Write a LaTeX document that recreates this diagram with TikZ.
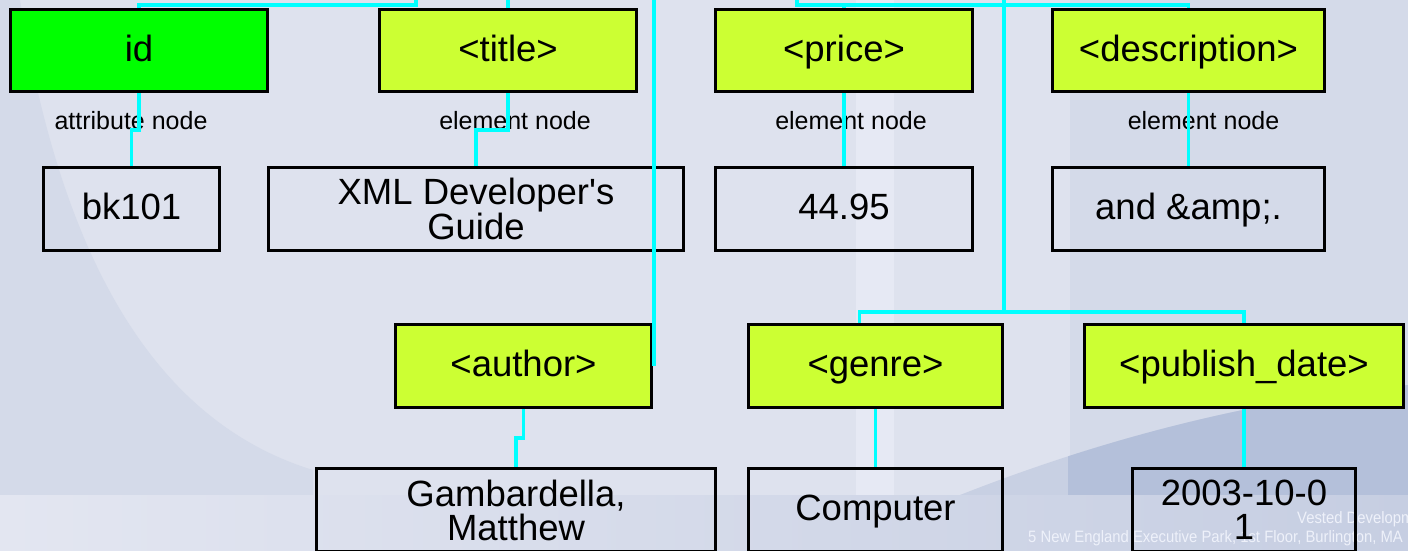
\documentclass[tikz,border=0pt]{standalone}
\usepackage{fontspec}
\usepackage{tikz}
\usetikzlibrary{positioning}
\newfontfamily\arialfont{Liberation Sans}
\newfontfamily\footfont[FakeStretch=0.9]{Liberation Sans}
\newcommand{\boxtext}{\arialfont\fontsize{36.5pt}{34pt}\selectfont}
\newcommand{\captext}{\arialfont\fontsize{25pt}{28pt}\selectfont}
\newcommand{\foottext}{\footfont\fontsize{16.5pt}{18pt}\selectfont}
\definecolor{bgbase}{RGB}{222,226,238}
\definecolor{bgdark}{RGB}{212,218,233}
\definecolor{bglight}{RGB}{230,233,244}
\definecolor{bgmid}{RGB}{200,208,227}
\definecolor{bgblue}{RGB}{180,192,218}
\definecolor{bgband}{RGB}{227,230,241}
\definecolor{bgbandr}{RGB}{198,206,226}
\definecolor{footwhite}{RGB}{238,241,250}
\definecolor{attrgreen}{RGB}{0,255,0}
\definecolor{elemlime}{RGB}{204,255,51}
\definecolor{linkcyan}{RGB}{0,255,255}
\tikzstyle{oneline} = [text height=28pt, text depth=7pt]
\tikzstyle{attrbox} = [rectangle, draw=black, line width=3pt, fill=attrgreen, minimum width=257pt, minimum height=82pt, inner sep=0pt, text centered, oneline, font=\boxtext]
\tikzstyle{elembox} = [attrbox, fill=elemlime]
\tikzstyle{valbox} = [rectangle, draw=black, line width=3pt, minimum height=83pt, inner sep=0pt, align=center, font=\boxtext]
\tikzstyle{caption} = [inner sep=0pt, font=\captext]
\tikzstyle{footline} = [anchor=base west, inner sep=0pt, font=\foottext, text=footwhite]
\tikzstyle{connect} = [draw=linkcyan, line width=3.5pt]

\begin{document}
\begin{tikzpicture}[x=1pt, y=-1pt]
			\useasboundingbox (0,0) rectangle (1408,550);
			% slide background
			\fill [bgbase] (0,0) rectangle (1408,550);
			\fill [bgdark] (0,0) -- (20,0) .. controls (60,250) and (150,420) .. (313,470) -- (313,495) -- (0,495) -- cycle;
			\fill [bgdark] (1070,0) rectangle (1408,495);
			\fill [bglight] (856,0) rectangle (894,495);
			\begin{scope}
				\clip (960,495) .. controls (1100,440) and (1250,400) .. (1408,385) -- (1408,495) -- cycle;
				\fill [bgmid] (960,0) rectangle (1408,495);
				\fill [bgblue] (1068,0) rectangle (1408,495);
			\end{scope}
			\shade [left color=bgband, right color=bgbandr] (0,495) rectangle (1408,550);
			\node (footname) [footline] at (1297,523) {Vested Development};
			\node (footaddr) [footline] at (1028,542) {5 New England Executive Park, 1st Floor, Burlington, MA};
			%-----------------------------------------------
			\node (id) [attrbox] at (139,50.5) {id};
			\node (title) [elembox, right=109pt of id] {<title>};
			\node (price) [elembox, right=76pt of title] {<price>};
			\node (desc) [elembox, minimum width=272pt, right=77pt of price] {<description>};
			%-----------------------------------------------
			\node (idcap) [caption, below=18pt of id, xshift=-8pt] {attribute node};
			\node (titlecap) [caption, below=18pt of title, xshift=7pt] {element node};
			\node (pricecap) [caption, below=18pt of price, xshift=7pt] {element node};
			\node (desccap) [caption, below=18pt of desc, xshift=15pt] {element node};
			%-----------------------------------------------
			\node (idval) [valbox, oneline, minimum width=176pt, below=73pt of id, xshift=-7.5pt] {bk101};
			\node (titleval) [valbox, minimum width=415pt, below=73pt of title, xshift=-32pt] {XML Developer's\\Guide};
			\node (priceval) [valbox, oneline, minimum width=257pt, below=73pt of price] {44.95};
			\node (descval) [valbox, oneline, minimum width=272pt, below=73pt of desc] {and \&amp;.};
			%-----------------------------------------------
			\node (author) [elembox, minimum width=256pt, minimum height=83pt, below=71pt of titleval, xshift=47.5pt] {<author>};
			\node (genre) [elembox, minimum width=254pt, minimum height=83pt, right=94pt of author] {<genre>};
			\node (pubdate) [elembox, minimum width=319pt, minimum height=83pt, right=79pt of genre] {<publish\_date>};
			%-----------------------------------------------
			\node (authorval) [valbox, minimum width=399pt, below=58pt of author, xshift=-7.5pt] {Gambardella,\\Matthew};
			\node (genreval) [valbox, oneline, minimum width=254pt, below=58pt of genre] {Computer};
			\node (pubval) [valbox, minimum width=223pt, below=58pt of pubdate] {2003-10-0\\1};
			
			%-----------------------------------------------
			%-----------------------------------------------
			\coordinate (edge) at (0,-4);
			\coordinate (hubleft) at (416,5);
			\coordinate (hubright) at (797,5);
			\coordinate (hubgenre) at (1004,312);
			
			\draw [connect] (id.north) |- (hubleft) -- (hubleft |- edge);
			\draw [connect] (title.north) -- (title.north |- edge);
			\draw [connect] ([xshift=1pt]author.east) -- ([xshift=1pt]author.east |- edge);
			\draw [connect] (hubright |- edge) -- (hubright) -- (desc.north |- hubright) -- (desc.north);
			\draw [connect] (price.north |- hubright) -- (price.north);
			\draw [connect] (hubgenre |- edge) -- (hubgenre);
			\draw [connect] ([xshift=-16pt]genre.north) |- (hubgenre);
			\draw [connect] (pubdate.north) |- (hubgenre);
			\draw [connect] (id.south) -- ++(0,37) -| (idval.north);
			\draw [connect] (title.south) -- ++(0,37) -| (titleval.north);
			\draw [connect] (price.south) -- (priceval.north);
			\draw [connect] (desc.south) -- (descval.north);
			\draw [connect] (author.south) -- ++(0,29) -| (authorval.north);
			\draw [connect] (genre.south) -- (genreval.north);
			\draw [connect] (pubdate.south) -- (pubval.north);
			\end{tikzpicture}
\end{document}
